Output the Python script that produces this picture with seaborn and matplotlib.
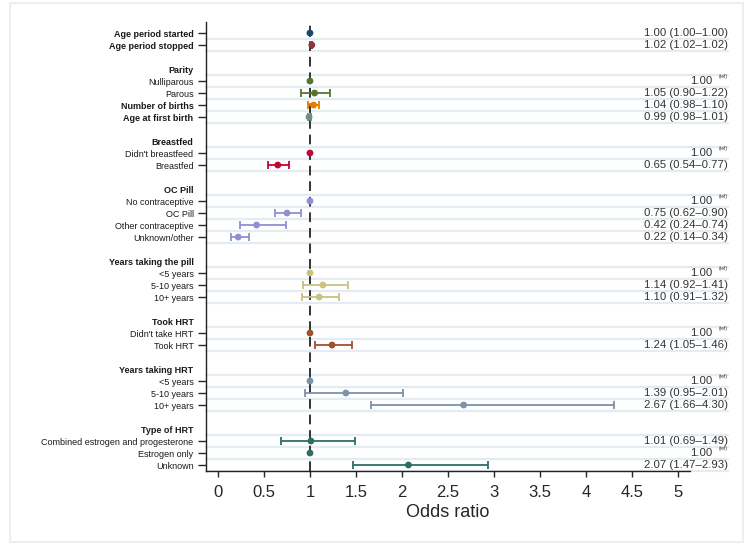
import numpy as np
import pandas as pd
import matplotlib
matplotlib.use("Agg")
import matplotlib.pyplot as plt
import matplotlib.transforms as mtransforms
from matplotlib.patches import Rectangle
import seaborn as sns

nan = np.nan

# Rows from top to bottom ("" = spacer row)
labels = ["Age period started", "Age period stopped", "",
          "Parity", "Nulliparous", "Parous", "Number of births", "Age at first birth", "",
          "Breastfed", "Didn't breastfeed", "Breastfed", "",
          "OC Pill", "No contraceptive", "OC Pill", "Other contraceptive", "Unknown/other", "",
          "Years taking the pill", "<5 years", "5-10 years", "10+ years", "",
          "Took HRT", "Didn't take HRT", "Took HRT", "",
          "Years taking HRT", "<5 years", "5-10 years", "10+ years", "",
          "Type of HRT", "Combined estrogen and progesterone", "Estrogen only", "Unknown"]

# row kind: h = header, b = bold continuous variable, r = reference, c = category, s = spacer
kinds = ["b", "b", "s",
         "h", "r", "c", "b", "b", "s",
         "h", "r", "c", "s",
         "h", "r", "c", "c", "c", "s",
         "h", "r", "c", "c", "s",
         "h", "r", "c", "s",
         "h", "r", "c", "c", "s",
         "h", "c", "r", "c"]

odds = [1.00, 1.02, nan,
        nan, 1.00, 1.05, 1.04, 0.99, nan,
        nan, 1.00, 0.65, nan,
        nan, 1.00, 0.75, 0.42, 0.22, nan,
        nan, 1.00, 1.14, 1.10, nan,
        nan, 1.00, 1.24, nan,
        nan, 1.00, 1.39, 2.67, nan,
        nan, 1.01, 1.00, 2.07]

ci_low = [1.00, 1.02, nan,
          nan, nan, 0.90, 0.98, 0.98, nan,
          nan, nan, 0.54, nan,
          nan, nan, 0.62, 0.24, 0.14, nan,
          nan, nan, 0.92, 0.91, nan,
          nan, nan, 1.05, nan,
          nan, nan, 0.95, 1.66, nan,
          nan, 0.69, nan, 1.47]

ci_high = [1.00, 1.02, nan,
           nan, nan, 1.22, 1.10, 1.01, nan,
           nan, nan, 0.77, nan,
           nan, nan, 0.90, 0.74, 0.34, nan,
           nan, nan, 1.41, 1.32, nan,
           nan, nan, 1.46, nan,
           nan, nan, 2.01, 4.30, nan,
           nan, 1.49, nan, 2.93]

groups = ["start", "stop", "",
          "parity", "parity", "parity", "births", "firstbirth", "",
          "breast", "breast", "breast", "",
          "oc", "oc", "oc", "oc", "oc", "",
          "pillyrs", "pillyrs", "pillyrs", "pillyrs", "",
          "hrt", "hrt", "hrt", "",
          "hrtyrs", "hrtyrs", "hrtyrs", "hrtyrs", "",
          "hrttype", "hrttype", "hrttype", "hrttype"]

palette = {"start": "#1a476f", "stop": "#90353b", "parity": "#55752f",
           "births": "#e37e00", "firstbirth": "#6e8e84", "breast": "#c10534",
           "oc": "#938dd2", "pillyrs": "#cac27e", "hrt": "#a0522d",
           "hrtyrs": "#7b92a8", "hrttype": "#2d6d66"}

xticks = [0, 0.5, 1, 1.5, 2, 2.5, 3, 3.5, 4, 4.5, 5]

df = pd.DataFrame({"label": labels, "kind": kinds, "odds": odds,
                   "lo": ci_low, "hi": ci_high, "group": groups})
df["row"] = np.arange(len(df))

sns.set_style("ticks")
plt.rcParams["font.family"] = ["Liberation Sans", "DejaVu Sans"]

fig = plt.figure(figsize=(7.52, 5.51), dpi=100)
ax = fig.add_axes([206 / 752, 1 - 471 / 551, 484 / 752, 449 / 551])

# light row bands
rows_used = df[df["kind"] != "s"]
grid_trans = mtransforms.blended_transform_factory(ax.transAxes, ax.transData)
for r in rows_used["row"]:
    ax.plot([0, (728 - 206) / 484], [r + 0.5, r + 0.5], color="#e3ecf1", lw=1.6,
            transform=grid_trans, clip_on=False, zorder=0)

ax.axvline(1, color="#333333", lw=1.4, ls=(0, (5, 3)), zorder=1)

# confidence intervals
ci = df.dropna(subset=["lo"])
for _, r in ci.iterrows():
    ax.errorbar(r["odds"], r["row"], xerr=[[r["odds"] - r["lo"]], [r["hi"] - r["odds"]]],
                fmt="none", ecolor=palette[r["group"]], elinewidth=1.3, capsize=3,
                capthick=1.3, zorder=2)

pts = df.dropna(subset=["odds"])
sns.scatterplot(data=pts, x="odds", y="row", hue="group", palette=palette, s=24,
                edgecolor="none", legend=False, ax=ax, zorder=3)

ax.set_xlim(-0.13, 5.13)
ax.set_ylim(36.5, -0.92)
ax.set_xticks(xticks)
ax.set_xticklabels([f"{t:g}" for t in xticks], fontsize=12)
ax.set_xlabel("Odds ratio", fontsize=13, labelpad=3)
ax.set_ylabel("")
ax.tick_params(axis="x", length=4, width=1, pad=6)
ax.tick_params(axis="y", length=6, width=1, pad=3)

ax.set_yticks(rows_used["row"])
ax.set_yticklabels(rows_used["label"], fontsize=6.5)
for tl, tick, k in zip(ax.get_yticklabels(), ax.yaxis.get_major_ticks(), rows_used["kind"]):
    tl.set_color("#1a1a1a")
    if k in ("h", "b"):
        tl.set_fontweight("bold")
    if k == "h":
        tick.tick1line.set_visible(False)

for s in ["top", "right"]:
    ax.spines[s].set_visible(False)
for s in ["left", "bottom"]:
    ax.spines[s].set_color("#222222")
    ax.spines[s].set_linewidth(1)

# right column of estimates
txt_trans = mtransforms.blended_transform_factory(fig.transFigure, ax.transData)
for _, r in pts.iterrows():
    if r["kind"] == "r":
        ax.text(712 / 752, r["row"], "1.00", transform=txt_trans, ha="right", va="center",
                fontsize=8.2, color="#333333")
        ax.text(728 / 752, r["row"] - 0.2, "(ref)", transform=txt_trans, ha="right",
                va="bottom", fontsize=3.5, color="#333333")
    else:
        ax.text(728 / 752, r["row"], f"{r['odds']:.2f} ({r['lo']:.2f}\u2013{r['hi']:.2f})",
                transform=txt_trans, ha="right", va="center", fontsize=8.2, color="#333333")

fig.patches.append(Rectangle((10 / 752, 9 / 551), 733 / 752, 539 / 551, transform=fig.transFigure,
                             fill=False, edgecolor="#e8eff5", lw=1.5))

fig.savefig("out.png", dpi=100)
